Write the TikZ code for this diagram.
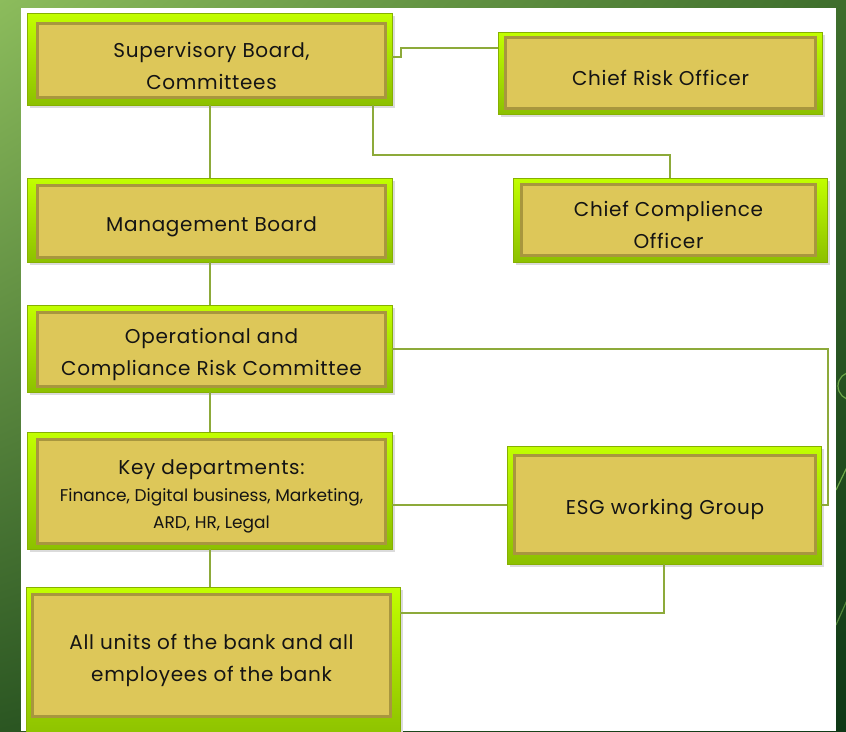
\documentclass[tikz,border=0pt]{standalone}
\usepackage{fontspec}
\setmainfont{Poppins}[LetterSpace=3.5]
\newfontfamily\smallfam{Poppins}
\usetikzlibrary{calc,shadings}
\definecolor{limetop}{HTML}{C2FF00}
\definecolor{limebot}{HTML}{8CC000}
\definecolor{limeedge}{HTML}{86B000}
\definecolor{goldfill}{HTML}{DDC759}
\definecolor{goldedge}{HTML}{A8963E}
\definecolor{conncol}{HTML}{8DAA3A}
\definecolor{bgUL}{HTML}{8CBC5C}
\definecolor{bgUR}{HTML}{3E6E2C}
\definecolor{bgLL}{HTML}{2B5622}
\definecolor{bgLR}{HTML}{0F3816}
\definecolor{decor}{HTML}{6FA84A}
\definecolor{txt}{HTML}{141414}
\tikzset{
  outerbox/.style={draw=limeedge, line width=0.8pt, top color=limetop, bottom color=limebot, inner sep=0pt},
  innerbox/.style={draw=goldedge, line width=3pt, fill=goldfill, inner sep=0pt},
  boxtext/.style={align=center, inner sep=0pt, text=txt, font=\fontsize{20}{32}\selectfont},
  shadowbox/.style={fill=black!14},
  conn/.style={draw=conncol, line width=2pt}
}
% #1 name, #2-#5 outer x1 y1 x2 y2, #6-#9 inner x1 y1 x2 y2, then text
\newcommand\orgbox[9]{%
  \fill[shadowbox] ($(#2,#3)+(3,3)$) rectangle ($(#4,#5)+(3,3)$);
  \node[outerbox, minimum width={#4-#2}, minimum height={#5-#3}] (#1) at ({(#2+#4)/2},{(#3+#5)/2}) {};
  \node[innerbox, minimum width={#8-#6-3}, minimum height={#9-#7-3}] (#1t) at ({(#6+#8)/2},{(#7+#9)/2}) {};
  \orgboxtext{#1}}
\newcommand\orgboxtext[2]{\node[boxtext] (#1x) at ([yshift=-5pt]#1t.center) {#2};}
\begin{document}
\begin{tikzpicture}[x=1pt,y=-1pt]
\useasboundingbox (0,0) rectangle (846,731);
% background
\shade[upper left=bgUL, upper right=bgUR, lower left=bgLL, lower right=bgLR] (0,0) rectangle (846,731);
\begin{scope}
\clip (836,0) rectangle (846,731);
\draw[decor, line width=1.2pt] (852,386) circle (14);
\draw[decor, line width=1.2pt] (836,490) -- (848,465);
\draw[decor!70!bgLR, line width=1.2pt] (836,625) -- (848,598);
\end{scope}
\fill[white] (21,8) rectangle (836,731);

% boxes
\orgbox{sb}{27}{13}{392}{105}{36}{22}{387}{99}{Supervisory Board,\\Committees}
\orgbox{cro}{498}{32}{822}{114}{504}{36}{817}{110}{Chief Risk Officer}
\orgbox{cco}{513}{178}{827}{262}{520}{183}{817}{257}{Chief Complience\\Officer}
\orgbox{mb}{27}{178}{392}{262}{36}{184}{387}{259}{Management Board}
\orgbox{op}{27}{305}{392}{392}{36}{311}{387}{388}{Operational and\\Compliance Risk Committee}
\orgbox{key}{27}{432}{392}{549}{36}{438}{387}{545}{Key departments:\\[-5pt]{\smallfam\fontsize{17}{26}\selectfont Finance, Digital business, Marketing,}\\[-5pt]{\smallfam\fontsize{17}{26}\selectfont ARD, HR, Legal}}
\orgbox{esg}{507}{446}{821}{564}{513}{454}{817}{555}{ESG working Group}
\orgbox{au}{26}{587}{400}{740}{31}{593}{392}{718}{All units of the bank and all\\employees of the bank}

% connectors
\draw[conn] ([yshift=2pt]sb.east) -- ++(9,0) |- ([yshift=25pt]cro.west);
\draw[conn] ([xshift=-19pt]sb.south east) -- ++(0,50) -| (cco.north);
\draw[conn] (sb.south) -- (mb.north);
\draw[conn] (mb.south) -- (op.north);
\draw[conn] (op.south) -- (key.south |- key.north);
\draw[conn] (op.east) -| ([xshift=7pt]esg.east) -- (esg.east);
\draw[conn] (esg.west -| key.east) -- (esg.west);
\draw[conn] (key.south) -- (key.south |- au.north);
\draw[conn] (esg.south) |- ([yshift=-26pt]au.north east);
\end{tikzpicture}
\end{document}
